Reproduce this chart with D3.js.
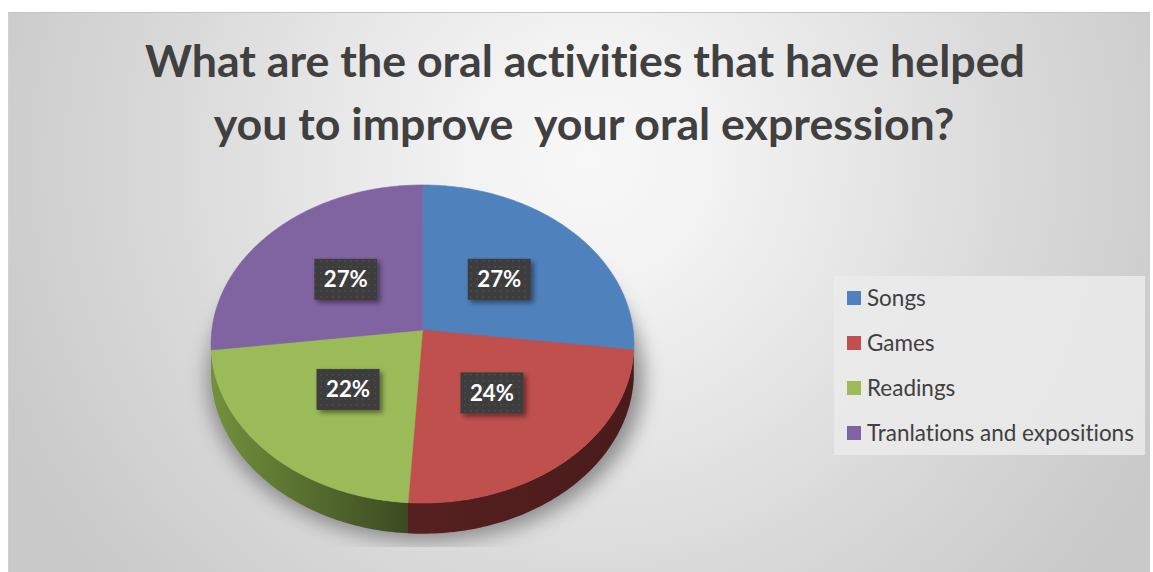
<!DOCTYPE html>
<html>
<head>
<meta charset="utf-8">
<script src="https://cdn.jsdelivr.net/npm/d3@7"></script>
<style>
html,body{margin:0;padding:0;background:#fff;}
svg{display:block;}
text{font-variant-ligatures:none;font-feature-settings:"liga" 0, "clig" 0;}
</style>
</head>
<body>
<svg id="chart" width="1153" height="572"></svg>
<script>
// ---- data ----
const categories = ["Songs", "Games", "Readings", "Tranlations and expositions"];
const values = [27, 24, 22, 27];
const percentLabels = ["27%", "24%", "22%", "27%"];
const titleLines = ["What are the oral activities that have helped", "you to improve  your oral expression?"];

const topColors = ["#4f81bd", "#c0504d", "#9bbb59", "#8064a2"];
const sideColors = [["#2f4f78", "#24405f"], ["#56201f", "#4a1b1b"], ["#72913d", "#3b4a21"], ["#4f3d66", "#3d2f50"]];

const svg = d3.select("#chart");
const W = 1153, H = 572;
const defs = svg.append("defs");

// background gradient
const bg = defs.append("radialGradient").attr("id", "bg")
  .attr("gradientUnits", "userSpaceOnUse")
  .attr("cx", 590).attr("cy", 160).attr("r", 640);
[[0, "#f8f8f8"], [0.2, "#f2f2f2"], [0.45, "#e5e5e5"], [0.65, "#dadada"], [1, "#c9c9c9"]]
  .forEach(([o, c]) => bg.append("stop").attr("offset", o).attr("stop-color", c));

svg.append("rect").attr("x", 8).attr("y", 12).attr("width", 1142).attr("height", 560)
  .attr("fill", "url(#bg)");
svg.append("line").attr("x1", 8).attr("x2", 1150).attr("y1", 12.5).attr("y2", 12.5)
  .attr("stroke", "#c4c4c4").attr("stroke-width", 1);
svg.append("line").attr("x1", 8.5).attr("x2", 8.5).attr("y1", 12).attr("y2", 572)
  .attr("stroke", "#d0d0d0").attr("stroke-width", 1);

// title
const title = svg.append("g").attr("font-family", "Lato, 'Open Sans', sans-serif")
  .attr("font-weight", "bold").attr("fill", "#404040").attr("text-anchor", "middle");
const t1 = title.append("text").attr("x", 585).attr("y", 77).attr("font-size", 40).text(titleLines[0]);
const targetW = 880;
const fs = 40 * targetW / t1.node().getComputedTextLength();
t1.attr("font-size", fs);
title.append("text").attr("x", 584).attr("y", 140).attr("font-size", fs).style("white-space", "pre").text(titleLines[1]);

// ---- 3D pie projection ----
const P = 0.088, K = 157.8, K2 = 210.6, X0 = 422.5, Y0 = 330;
function proj(x, y) { // unit-disk coords (y down toward viewer)
  const w = 1 - P * y;
  return [X0 + K2 * x / w, Y0 + K * y / w];
}
function depthAt(y) { return 28 / (1 - P * y); }
function unitPt(a) { return [Math.sin(a), -Math.cos(a)]; }

const pie = d3.pie().sort(null).value(d => d)(values);
const arcGen = d3.arc().innerRadius(0).outerRadius(1);
const line = d3.line();

// shadow
const sh = defs.append("filter").attr("id", "shadow").attr("x", "-20%").attr("y", "-20%").attr("width", "140%").attr("height", "140%");
sh.append("feGaussianBlur").attr("stdDeviation", 10);
defs.append("clipPath").attr("id", "shclip").append("rect").attr("x", 0).attr("y", 0).attr("width", W).attr("height", 547);
const shadowPts = d3.range(0, 361, 3).map(d => {
  const a = d * Math.PI / 180; const u = unitPt(a); const p = proj(u[0], u[1]);
  return [X0 + (p[0] - X0) * 1.03 + 3, p[1] + depthAt(u[1]) + 7];
});
svg.append("g").attr("clip-path", "url(#shclip)")
  .append("path").attr("d", line(shadowPts) + "Z").attr("fill", "#7a7a7a").attr("opacity", 0.85)
  .attr("filter", "url(#shadow)");

// sides
const aR = Math.PI / 2 + Math.asin(P), aL = 3 * Math.PI / 2 - Math.asin(P);
const sideG = svg.append("g");
pie.forEach((s, i) => {
  const a0 = Math.max(s.startAngle, aR), a1 = Math.min(s.endAngle, aL);
  if (a1 <= a0) return;
  const n = Math.max(4, Math.ceil((a1 - a0) * 60));
  const topPts = d3.range(n + 1).map(k => { const u = unitPt(a0 + (a1 - a0) * k / n); return proj(u[0], u[1]); });
  const botPts = d3.range(n + 1).map(k => { const u = unitPt(a0 + (a1 - a0) * k / n); const p = proj(u[0], u[1]); return [p[0], p[1] + depthAt(u[1])]; }).reverse();
  const xs = topPts.map(p => p[0]);
  const gid = "sg" + i;
  const g = defs.append("linearGradient").attr("id", gid).attr("gradientUnits", "userSpaceOnUse")
    .attr("x1", d3.min(xs)).attr("x2", d3.max(xs)).attr("y1", 0).attr("y2", 0);
  g.append("stop").attr("offset", 0).attr("stop-color", sideColors[i][0]);
  g.append("stop").attr("offset", 1).attr("stop-color", sideColors[i][1]);
  sideG.append("path").attr("d", line(topPts.concat(botPts)) + "Z").attr("fill", `url(#${gid})`);
});

// top faces
const topG = svg.append("g");
pie.forEach((s, i) => {
  const n = Math.max(8, Math.ceil((s.endAngle - s.startAngle) * 60));
  const pts = [proj(0, 0)].concat(d3.range(n + 1).map(k => {
    const u = unitPt(s.startAngle + (s.endAngle - s.startAngle) * k / n); return proj(u[0], u[1]);
  }));
  topG.append("path").attr("d", line(pts) + "Z").attr("fill", topColors[i])
    .attr("stroke", topColors[i]).attr("stroke-width", 0.6).attr("stroke-linejoin", "round");
});

// data labels
const pat = defs.append("pattern").attr("id", "dots").attr("patternUnits", "userSpaceOnUse")
  .attr("width", 6).attr("height", 6);
pat.append("rect").attr("width", 6).attr("height", 6).attr("fill", "#3c3c3c");
pat.append("circle").attr("cx", 3).attr("cy", 3).attr("r", 1).attr("fill", "#4a4a4a");
const ds = defs.append("filter").attr("id", "lblshadow").attr("x", "-30%").attr("y", "-30%").attr("width", "170%").attr("height", "170%");
ds.append("feDropShadow").attr("dx", 3).attr("dy", 3).attr("stdDeviation", 2.5).attr("flood-color", "#000").attr("flood-opacity", 0.45);

const lblG = svg.append("g");
pie.forEach((s, i) => {
  const c = arcGen.centroid(s);
  const p = proj(c[0], c[1]);
  const bw = 63, bh = 41;
  lblG.append("rect").attr("x", p[0] - bw / 2).attr("y", p[1] - bh / 2).attr("width", bw).attr("height", bh)
    .attr("fill", "url(#dots)").attr("filter", "url(#lblshadow)");
  const t = lblG.append("text").attr("x", p[0]).attr("y", p[1]).attr("dy", "0.36em")
    .attr("text-anchor", "middle").attr("font-family", "Lato, 'Open Sans', sans-serif")
    .attr("font-weight", "bold").attr("font-size", 23).attr("fill", "#fff").text(percentLabels[i]);
  const tw = t.node().getComputedTextLength();
  t.attr("font-size", 23 * 44 / tw);
});

// legend
const lg = svg.append("g");
lg.append("rect").attr("x", 834).attr("y", 276).attr("width", 311).attr("height", 179)
  .attr("fill", "#ebebeb").attr("opacity", 0.85);
const items = lg.selectAll("g.item").data(categories).join("g").attr("class", "item")
  .attr("transform", (d, i) => `translate(847,${298 + i * 45})`);
items.append("rect").attr("x", 0).attr("y", -7).attr("width", 14).attr("height", 14)
  .attr("fill", (d, i) => topColors[i]);
const lt = items.append("text").attr("x", 20).attr("y", 0).attr("dy", "0.35em")
  .attr("font-family", "Lato, 'Open Sans', sans-serif").attr("font-size", 20).attr("fill", "#404040")
  .text(d => d);
const longest = lt.nodes()[3].getComputedTextLength();
lt.attr("font-size", 20 * 267 / longest);
</script>
</body>
</html>
